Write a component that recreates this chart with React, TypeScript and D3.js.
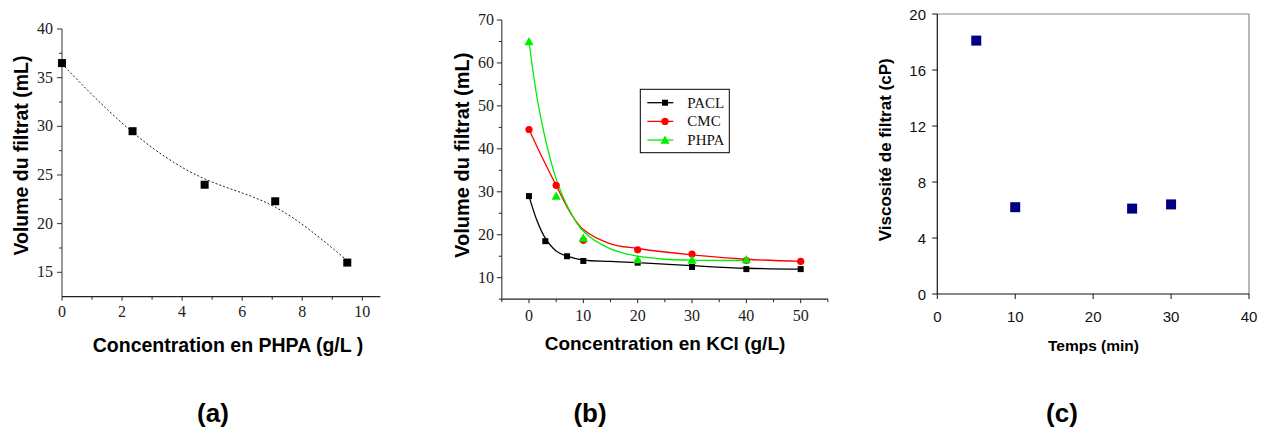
import React from "react";
import * as d3 from "d3";

// (a) filtrate volume vs PHPA concentration
const phpaConc = [0, 2.35, 4.75, 7.1, 9.5];
const phpaVolume = [36.5, 29.5, 24.0, 22.3, 16.0];
const phpaFitX = [0, 2.35, 4.75, 7.1, 9.5];
const phpaFitY = [36.4, 29.4, 24.6, 21.7, 16.2];
const aTicksX = [0, 2, 4, 6, 8, 10];
const aMinorX = [1, 3, 5, 7, 9];
const aTicksY = [15, 20, 25, 30, 35, 40];
const aMinorY = [17.5, 22.5, 27.5, 32.5, 37.5];

// (b) filtrate volume vs KCl concentration, three polymers
const paclX = [0, 3, 7, 10, 20, 30, 40, 50];
const paclY = [29, 18.5, 15, 13.9, 13.5, 12.5, 12, 12];
const cmcX = [0, 5, 10, 20, 30, 40, 50];
const cmcY = [44.5, 31.5, 18.7, 16.5, 15.5, 14, 13.8];
const phpaX = [0, 5, 10, 20, 30, 40];
const phpaY = [65, 29, 19.2, 14.2, 14.1, 14.2];
const paclFitX = [0, 1.5, 3, 5, 7, 10, 15, 20, 30, 40, 50];
const paclFitY = [29, 23.2, 19.2, 16.2, 15.0, 14.1, 13.8, 13.5, 12.8, 12.2, 12.0];
const cmcFitX = [0, 2.5, 5, 7.5, 10, 15, 20, 30, 40, 50];
const cmcFitY = [44.5, 37.8, 31.5, 25.4, 21.2, 17.9, 16.8, 15.3, 14.3, 13.8];
const phpaFitKX = [0, 2, 5, 7.5, 10, 15, 20, 25, 30, 40];
const phpaFitKY = [65, 48.3, 33.0, 25.6, 20.8, 16.7, 15.0, 14.3, 14.1, 14.0];
const bTicksX = [0, 10, 20, 30, 40, 50];
const bMinorX = [-5, 5, 15, 25, 35, 45, 55];
const bTicksY = [10, 20, 30, 40, 50, 60, 70];
const bMinorY = [5, 15, 25, 35, 45, 55, 65];
const seriesNames = ["PACL", "CMC", "PHPA"];
const seriesColors = ["#000000", "#ff0000", "#00ee00"];

// (c) filtrate viscosity vs time
const timeMin = [5, 10, 25, 30];
const viscosity = [18.1, 6.2, 6.1, 6.4];
const cTicksX = [0, 10, 20, 30, 40];
const cTicksY = [0, 4, 8, 12, 16, 20];

const serif = "'Liberation Serif', 'Times New Roman', serif";
const sans = "'Liberation Sans', Arial, sans-serif";

function PanelA() {
  const x = d3.scaleLinear().domain([0, 10]).range([62, 362.3]);
  const y = d3.scaleLinear().domain([15, 40]).range([272.3, 29]);
  const x1 = x(10.6), y0 = y(12.5);
  const fit = d3
    .line<number>()
    .x((d) => x(d))
    .y((_, i) => y(phpaFitY[i]))
    .curve(d3.curveNatural);
  return (
    <g>
      <line x1={x(0)} x2={x(0)} y1={y(40)} y2={y0} stroke="#333" strokeWidth={1} />
      <line x1={x(0)} x2={x1} y1={y0} y2={y0} stroke="#222" strokeWidth={1.2} />
      {aTicksY.map((t) => (
        <g key={"ay" + t}>
          <line x1={x(0) - 5} x2={x(0)} y1={y(t)} y2={y(t)} stroke="#333" />
          <text x={x(0) - 9} y={y(t) + 5} textAnchor="end" fontFamily={serif} fontSize={16} fill="#222">
            {t}
          </text>
        </g>
      ))}
      {aMinorY.map((t) => (
        <line key={"amy" + t} x1={x(0) - 3} x2={x(0)} y1={y(t)} y2={y(t)} stroke="#333" />
      ))}
      {aTicksX.map((t) => (
        <g key={"ax" + t}>
          <line x1={x(t)} x2={x(t)} y1={y0} y2={y0 + 4} stroke="#222" />
          <text x={x(t)} y={316.7} textAnchor="middle" fontFamily={serif} fontSize={16} fill="#222">
            {t}
          </text>
        </g>
      ))}
      {aMinorX.map((t) => (
        <line key={"amx" + t} x1={x(t)} x2={x(t)} y1={y0} y2={y0 + 3} stroke="#222" />
      ))}
      <path d={fit(phpaFitX) || ""} fill="none" stroke="#222" strokeWidth={1} strokeDasharray="2,2" />
      {phpaConc.map((c, i) => (
        <rect key={"ap" + i} x={x(c) - 4} y={y(phpaVolume[i]) - 4} width={8} height={8} fill="#000" />
      ))}
      <text
        transform={`translate(28,${y(27)}) rotate(-90)`}
        textAnchor="middle"
        fontFamily={sans}
        fontWeight="bold"
        fontSize={19.5}
      >
        Volume du filtrat (mL)
      </text>
      <text x={228} y={352} textAnchor="middle" fontFamily={sans} fontWeight="bold" fontSize={19.5}>
        Concentration en PHPA (g/L )
      </text>
    </g>
  );
}

function Triangle({ cx, cy, color }: { cx: number; cy: number; color: string }) {
  const s = 4.6;
  return <path d={`M${cx},${cy - s}L${cx + s},${cy + s * 0.8}L${cx - s},${cy + s * 0.8}Z`} fill={color} />;
}

function Marker({ kind, cx, cy }: { kind: number; cx: number; cy: number }) {
  if (kind === 0) return <rect x={cx - 3} y={cy - 3} width={6} height={6} fill={seriesColors[0]} />;
  if (kind === 1) return <circle cx={cx} cy={cy} r={3.6} fill={seriesColors[1]} />;
  return <Triangle cx={cx} cy={cy} color={seriesColors[2]} />;
}

function PanelB() {
  const x = d3.scaleLinear().domain([0, 50]).range([529, 800.7]);
  const y = d3.scaleLinear().domain([10, 70]).range([277.7, 20]);
  const xL = x(-5), xR = x(55), y0 = y(5);
  const mk = (ys: number[]) =>
    d3
      .line<number>()
      .x((d) => x(d))
      .y((_, i) => y(ys[i]))
      .curve(d3.curveCatmullRom.alpha(0.5));
  const fits = [
    { xs: paclFitX, ys: paclFitY },
    { xs: cmcFitX, ys: cmcFitY },
    { xs: phpaFitKX, ys: phpaFitKY },
  ];
  const pts = [
    { xs: paclX, ys: paclY },
    { xs: cmcX, ys: cmcY },
    { xs: phpaX, ys: phpaY },
  ];
  const lgX = 640.3, lgY = 89.3;
  return (
    <g>
      <line x1={xL} x2={xL} y1={y(70)} y2={y0} stroke="#222" />
      <line x1={xL} x2={xR} y1={y0} y2={y0} stroke="#222" strokeWidth={1.2} />
      {bTicksY.map((t) => (
        <g key={"by" + t}>
          <line x1={xL - 5} x2={xL} y1={y(t)} y2={y(t)} stroke="#222" />
          <text x={494} y={y(t) + 5} textAnchor="end" fontFamily={serif} fontSize={16} fill="#222">
            {t}
          </text>
        </g>
      ))}
      {bMinorY.map((t) => (
        <line key={"bmy" + t} x1={xL - 3} x2={xL} y1={y(t)} y2={y(t)} stroke="#222" />
      ))}
      {bTicksX.map((t) => (
        <g key={"bx" + t}>
          <line x1={x(t)} x2={x(t)} y1={y0} y2={y0 + 4} stroke="#222" />
          <text x={x(t)} y={320.7} textAnchor="middle" fontFamily={serif} fontSize={16} fill="#222">
            {t}
          </text>
        </g>
      ))}
      {bMinorX.map((t) => (
        <line key={"bmx" + t} x1={x(t)} x2={x(t)} y1={y0} y2={y0 + 3} stroke="#222" />
      ))}
      {fits.map((f, k) => (
        <path key={"bf" + k} d={mk(f.ys)(f.xs) || ""} fill="none" stroke={seriesColors[k]} strokeWidth={1.3} />
      ))}
      {pts.map((p, k) =>
        p.xs.map((v, i) => <Marker key={`bp${k}-${i}`} kind={k} cx={x(v)} cy={y(p.ys[i])} />)
      )}
      <rect x={lgX} y={lgY} width={89} height={63.4} fill="#fff" stroke="#000" strokeWidth={1} />
      {seriesNames.map((n, k) => {
        const cy = lgY + 13.4 + k * 18.7;
        return (
          <g key={"lg" + n}>
            <line x1={lgX + 7} x2={lgX + 33} y1={cy} y2={cy} stroke={seriesColors[k]} strokeWidth={1.3} />
            <Marker kind={k} cx={lgX + 24.7} cy={cy} />
            <text x={lgX + 47} y={cy + 5} fontFamily={serif} fontSize={15} fill="#111">
              {n}
            </text>
          </g>
        );
      })}
      <text
        transform={`translate(469,${y(38.5)}) rotate(-90)`}
        textAnchor="middle"
        fontFamily={sans}
        fontWeight="bold"
        fontSize={20}
      >
        Volume du filtrat (mL)
      </text>
      <text x={665} y={350} textAnchor="middle" fontFamily={sans} fontWeight="bold" fontSize={19}>
        Concentration en KCl (g/L)
      </text>
    </g>
  );
}

function PanelC() {
  const x = d3.scaleLinear().domain([0, 40]).range([937.3, 1249]);
  const y = d3.scaleLinear().domain([0, 20]).range([294, 14]);
  return (
    <g>
      <line x1={x(0)} x2={x(40)} y1={y(20)} y2={y(20)} stroke="#888" strokeWidth={1.2} />
      <line x1={x(40)} x2={x(40)} y1={y(20)} y2={y(0)} stroke="#888" strokeWidth={1.2} />
      <line x1={x(0)} x2={x(0)} y1={y(20)} y2={y(0)} stroke="#111" strokeWidth={1.2} />
      <line x1={x(0)} x2={x(40)} y1={y(0)} y2={y(0)} stroke="#111" strokeWidth={1.2} />
      {cTicksY.map((t) => (
        <g key={"cy" + t}>
          <line x1={x(0) - 5} x2={x(0)} y1={y(t)} y2={y(t)} stroke="#111" />
          <text x={926} y={y(t) + 5.5} textAnchor="end" fontFamily={sans} fontSize={15} fill="#111">
            {t}
          </text>
        </g>
      ))}
      {cTicksX.map((t) => (
        <g key={"cx" + t}>
          <line x1={x(t)} x2={x(t)} y1={y(0)} y2={y(0) + 5} stroke="#111" />
          <text x={x(t)} y={321.7} textAnchor="middle" fontFamily={sans} fontSize={15} fill="#111">
            {t}
          </text>
        </g>
      ))}
      {timeMin.map((t, i) => (
        <rect key={"cp" + i} x={x(t) - 5} y={y(viscosity[i]) - 5} width={10} height={10} fill="#000080" />
      ))}
      <text
        transform={`translate(891,${y(10.3)}) rotate(-90)`}
        textAnchor="middle"
        fontFamily={sans}
        fontWeight="bold"
        fontSize={17}
      >
        Viscosité de filtrat (cP)
      </text>
      <text x={1093.5} y={350.5} textAnchor="middle" fontFamily={sans} fontWeight="bold" fontSize={15.5}>
        Temps (min)
      </text>
    </g>
  );
}

export default function App() {
  const captions = [
    { label: "(a)", cx: 213 },
    { label: "(b)", cx: 590 },
    { label: "(c)", cx: 1062 },
  ];
  return (
    <svg
      width={1268}
      height={431}
      viewBox="0 0 1268 431"
      style={{ position: "absolute", left: 0, top: 0, background: "#fff" }}
    >
      <rect width={1268} height={431} fill="#fff" />
      <PanelA />
      <PanelB />
      <PanelC />
      {captions.map((c) => (
        <text key={c.label} x={c.cx} y={422} textAnchor="middle" fontFamily={sans} fontWeight="bold" fontSize={26}>
          {c.label}
        </text>
      ))}
    </svg>
  );
}
